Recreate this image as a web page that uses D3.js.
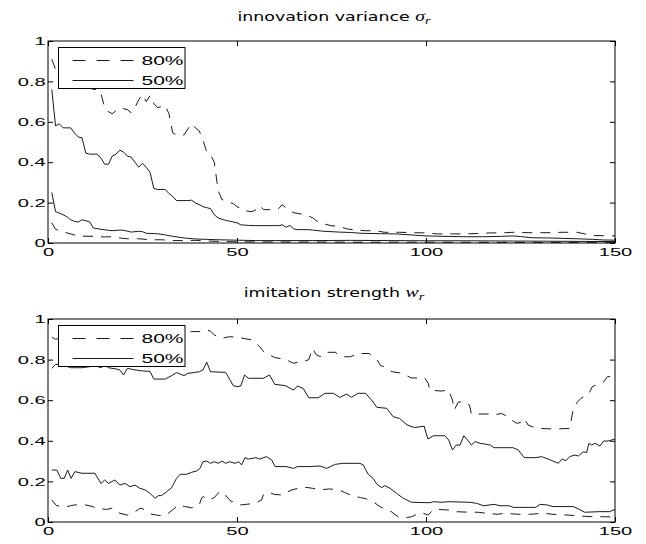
<!DOCTYPE html>
<html>
<head>
<meta charset="utf-8">
<script src="https://cdn.jsdelivr.net/npm/d3@7"></script>
<style>
  html, body { margin: 0; padding: 0; background: #fff; }
  svg { display: block; }
</style>
</head>
<body>
<svg id="chart" width="646" height="544"></svg>
<script>
// ---------------- data ----------------
const xTicks = [0, 50, 100, 150];
const yTicks = [0, 0.2, 0.4, 0.6, 0.8, 1];
const yTickLabels = ["0", "0.2", "0.4", "0.6", "0.8", "1"];
const legendLabels = ["80%", "50%"];
const panelTitles = ["innovation variance", "imitation strength"];
const panelSymbols = ["σ", "w"];

// top panel: innovation variance sigma_r  ([x, value])
const topHi80 = [[1,0.91],[2,0.86],[3,0.84],[4,0.83],[5,0.85],[6,0.82],[7,0.80],[8,0.81],[9,0.79],[10,0.78],[11,0.77],[12,0.76],[13,0.76],[14,0.74],[15,0.67],[16,0.65],[17,0.64],[18,0.655],[19,0.67],[20,0.665],[21,0.66],[22,0.645],[23,0.67],[24,0.71],[25,0.735],[26,0.70],[27,0.73],[28,0.69],[29,0.67],[30,0.675],[31,0.68],[32,0.64],[33,0.545],[34,0.535],[36,0.535],[37,0.565],[38,0.59],[39,0.57],[40,0.555],[41,0.51],[42,0.45],[43,0.435],[44,0.40],[45,0.26],[46,0.215],[47,0.21],[48,0.2],[49,0.195],[50,0.18],[51,0.17],[52,0.16],[54,0.155],[55,0.165],[56,0.185],[57,0.165],[60,0.165],[61,0.17],[62,0.19],[63,0.17],[65,0.15],[68,0.14],[70,0.125],[71,0.11],[73,0.095],[75,0.085],[77,0.083],[79,0.07],[81,0.065],[84,0.061],[87,0.06],[89,0.053],[93,0.053],[97,0.051],[100,0.05],[103,0.045],[110,0.045],[114,0.047],[117,0.05],[120,0.05],[123,0.053],[127,0.051],[133,0.051],[136,0.053],[140,0.053],[142,0.045],[144,0.037],[147,0.036],[150,0.035]];
const topHi50 = [[1,0.76],[2,0.58],[3,0.59],[4,0.57],[6,0.57],[7,0.545],[8,0.525],[9,0.52],[10,0.445],[11,0.44],[13,0.44],[14,0.42],[15,0.39],[16,0.39],[17,0.43],[18,0.44],[19,0.46],[20,0.45],[21,0.43],[22,0.425],[23,0.40],[24,0.375],[25,0.395],[26,0.375],[27,0.35],[28,0.27],[29,0.265],[31,0.265],[32,0.245],[33,0.23],[34,0.21],[37,0.21],[38,0.212],[39,0.198],[40,0.19],[41,0.18],[42,0.175],[43,0.17],[44,0.14],[45,0.124],[46,0.118],[47,0.112],[48,0.108],[49,0.104],[50,0.1],[51,0.09],[53,0.087],[55,0.086],[61,0.086],[62,0.09],[63,0.078],[64,0.087],[65,0.07],[66,0.066],[69,0.066],[70,0.064],[73,0.058],[77,0.054],[80,0.052],[83,0.048],[88,0.046],[92,0.045],[96,0.04],[100,0.035],[105,0.033],[110,0.031],[115,0.031],[120,0.033],[123,0.035],[125,0.032],[128,0.026],[132,0.025],[136,0.023],[140,0.021],[144,0.018],[147,0.015],[150,0.014]];
const topLo50 = [[1,0.25],[2,0.155],[3,0.148],[4,0.14],[5,0.13],[6,0.115],[7,0.107],[8,0.104],[9,0.115],[10,0.11],[11,0.105],[12,0.074],[14,0.068],[16,0.063],[17,0.061],[19,0.064],[20,0.063],[22,0.054],[24,0.058],[25,0.056],[26,0.048],[29,0.046],[31,0.04],[33,0.033],[36,0.025],[39,0.02],[42,0.018],[45,0.016],[50,0.014],[55,0.012],[70,0.012],[80,0.013],[90,0.012],[100,0.011],[110,0.011],[120,0.01],[130,0.009],[140,0.008],[150,0.007]];
const topLo80 = [[1,0.1],[2,0.068],[3,0.06],[5,0.05],[7,0.04],[8,0.034],[12,0.033],[15,0.03],[17,0.031],[19,0.025],[21,0.021],[24,0.021],[27,0.016],[30,0.016],[33,0.012],[36,0.012],[39,0.013],[42,0.01],[45,0.008],[50,0.006],[60,0.005],[70,0.005],[80,0.004],[100,0.004],[120,0.003],[150,0.003]];

// bottom panel: imitation strength w_r  ([x, value])
const botHi80 = [[1,0.91],[2,0.90],[4,0.91],[6,0.92],[8,0.93],[10,0.92],[12,0.93],[14,0.94],[16,0.93],[18,0.92],[20,0.93],[22,0.94],[24,0.93],[26,0.92],[28,0.93],[30,0.94],[32,0.93],[34,0.92],[36,0.921],[38,0.938],[40,0.938],[42,0.946],[43,0.94],[44,0.921],[46,0.905],[48,0.913],[50,0.91],[54,0.897],[55,0.88],[56,0.864],[57,0.84],[58,0.826],[59,0.82],[60,0.81],[63,0.8],[64,0.79],[65,0.782],[66,0.787],[68,0.793],[69,0.8],[70,0.855],[71,0.823],[72,0.815],[73,0.82],[74,0.836],[76,0.836],[77,0.82],[78,0.814],[80,0.814],[82,0.83],[85,0.83],[86,0.81],[87,0.8],[88,0.77],[89,0.765],[91,0.74],[93,0.735],[94,0.73],[96,0.71],[99.7,0.708],[100.6,0.683],[101,0.65],[104,0.645],[106,0.65],[107,0.6],[107.5,0.552],[108.5,0.59],[110,0.593],[111.5,0.576],[112,0.532],[116.5,0.532],[118,0.527],[120,0.535],[121,0.525],[122,0.51],[124,0.486],[125,0.49],[126,0.51],[127,0.478],[128,0.47],[130,0.461],[134,0.458],[138,0.461],[139,0.56],[140,0.59],[141,0.609],[142.5,0.626],[143,0.63],[144,0.667],[146,0.683],[147,0.69],[148,0.716],[150,0.716]];
const botHi50 = [[1,0.757],[2,0.777],[4,0.773],[6,0.76],[9,0.76],[11,0.765],[12,0.773],[14,0.76],[15,0.773],[16,0.76],[18,0.754],[19,0.749],[20,0.724],[21,0.757],[23,0.749],[25,0.744],[27,0.742],[28,0.704],[31,0.704],[33,0.724],[34,0.736],[36,0.721],[37,0.732],[40,0.74],[41,0.749],[42,0.787],[43,0.74],[47,0.737],[49,0.672],[50,0.667],[51,0.67],[52,0.724],[53,0.708],[57,0.708],[58.6,0.724],[60,0.678],[62.7,0.672],[65,0.65],[66,0.67],[67.5,0.658],[69,0.612],[71.5,0.612],[73.3,0.634],[75.5,0.634],[77.2,0.614],[79,0.63],[80.3,0.614],[82,0.634],[84,0.634],[85.6,0.601],[87,0.565],[89.6,0.56],[91.3,0.519],[93,0.51],[95,0.478],[97,0.465],[99.5,0.472],[100.5,0.409],[102,0.425],[105,0.425],[106,0.404],[107,0.355],[108,0.379],[109,0.379],[110,0.425],[111,0.404],[112,0.379],[113,0.396],[114.3,0.388],[117,0.379],[118,0.366],[123,0.366],[124.4,0.355],[126,0.317],[129,0.317],[130.6,0.322],[133,0.305],[135,0.289],[136,0.31],[137,0.302],[138,0.322],[139.4,0.33],[140.3,0.325],[141.6,0.346],[142.5,0.342],[143.1,0.388],[143.8,0.379],[144.7,0.388],[146,0.374],[147,0.399],[148.2,0.399],[150,0.409]];
const botLo50 = [[1,0.256],[2.3,0.256],[3.4,0.215],[4.3,0.215],[5.2,0.256],[6.1,0.215],[7.1,0.248],[9,0.24],[12.4,0.24],[14,0.19],[15,0.207],[16,0.19],[17.7,0.207],[19,0.182],[20.4,0.19],[21.7,0.174],[23,0.182],[24.3,0.166],[25.7,0.158],[27,0.141],[28.3,0.117],[29.2,0.13],[30,0.13],[31.4,0.149],[32.7,0.169],[34,0.215],[35,0.235],[36.7,0.235],[38,0.245],[39.3,0.251],[40.2,0.264],[41,0.297],[42,0.3],[43,0.289],[44,0.297],[45,0.289],[46,0.3],[47,0.289],[48,0.297],[49.5,0.289],[50.5,0.297],[51.2,0.281],[52.1,0.317],[53,0.31],[55,0.317],[56,0.31],[57.8,0.322],[59.2,0.305],[60.1,0.273],[63,0.273],[65,0.264],[66,0.273],[69,0.273],[72,0.276],[73.7,0.264],[76,0.284],[78,0.289],[82.5,0.289],[83.4,0.281],[84.7,0.235],[86,0.215],[87,0.186],[88.3,0.169],[89.1,0.179],[90.5,0.166],[92.2,0.141],[94,0.117],[96.2,0.097],[101,0.095],[102,0.1],[104,0.097],[106,0.1],[111.6,0.097],[113.4,0.092],[115.2,0.08],[118,0.087],[119.6,0.08],[122,0.08],[123.1,0.072],[129,0.072],[130.2,0.087],[132,0.084],[133.6,0.076],[139,0.076],[140.3,0.064],[142,0.048],[146,0.051],[148.6,0.051],[150,0.062]];
const botLo80 = [[1,0.108],[2.3,0.08],[4,0.076],[5,0.076],[6,0.08],[7,0.084],[10,0.084],[12,0.075],[13,0.067],[15.5,0.062],[17,0.068],[18.6,0.045],[19,0.043],[21,0.034],[23,0.05],[24.3,0.067],[25,0.067],[26,0.05],[27,0.04],[28.7,0.034],[30,0.032],[31.5,0.038],[33,0.06],[34.5,0.084],[36.2,0.076],[38,0.07],[40,0.084],[40.7,0.12],[41.1,0.125],[42.4,0.108],[44,0.12],[45.3,0.149],[46.6,0.14],[48.2,0.105],[50,0.092],[51,0.084],[53.8,0.09],[55,0.095],[56.5,0.108],[57,0.135],[58.5,0.145],[60,0.136],[61.8,0.133],[63,0.145],[64.5,0.158],[67,0.17],[68.5,0.17],[70,0.166],[72.2,0.158],[73,0.16],[74.4,0.163],[77,0.158],[78.5,0.145],[80,0.133],[82.7,0.12],[84,0.115],[86,0.1],[87.8,0.076],[89,0.065],[90.8,0.051],[92.6,0.026],[94,0.02],[95,0.022],[96.2,0.026],[97.5,0.038],[99,0.045],[100.5,0.034],[101.9,0.059],[103,0.062],[105.9,0.059],[107.2,0.051],[109,0.05],[111.6,0.048],[113.8,0.048],[116,0.043],[118.8,0.038],[121,0.043],[124.4,0.038],[127.5,0.038],[131,0.043],[133.6,0.038],[135.5,0.036],[137.6,0.034],[140.3,0.03],[142,0.028],[144.2,0.026],[147.3,0.026],[150,0.024]];

// ---------------- drawing ----------------
const svg = d3.select("#chart");
const SX = 1.75;                       // horizontal stretch of the reference lettering
const LABEL_FONT = "'Liberation Sans', Arial, Helvetica, sans-serif";
const DASH = "10,8";

const x = d3.scaleLinear().domain([0, 150]).range([48, 615]);

const panels = [
  { top: 41, bottom: 243, titleY: 20.5, series: [topHi80, topHi50, topLo50, topLo80] },
  { top: 319, bottom: 522, titleY: 297, series: [botHi80, botHi50, botLo50, botLo80] }
];
const seriesDash = [true, false, false, true];

panels.forEach((p, i) => {
  const y = d3.scaleLinear().domain([0, 1]).range([p.bottom, p.top]);
  const g = svg.append("g");

  // title
  const t = g.append("text")
    .attr("transform", `translate(334,${p.titleY}) scale(1.36,1)`)
    .attr("text-anchor", "middle")
    .attr("font-family", "'DejaVu Sans', sans-serif")
    .attr("font-size", 12.8)
    .attr("fill", "#000");
  t.append("tspan").text(panelTitles[i] + " ");
  t.append("tspan").attr("font-family", "'Liberation Serif', 'DejaVu Serif', serif")
    .attr("font-style", "italic").attr("font-size", 14.5).text(panelSymbols[i]);
  t.append("tspan").attr("font-family", "'Liberation Serif', 'DejaVu Serif', serif")
    .attr("font-style", "italic").attr("font-size", 10.5).attr("dy", 3).text("r");

  // series lines
  const line = d3.line().x(d => x(d[0])).y(d => y(d[1]));
  p.series.forEach((s, k) => {
    g.append("path")
      .datum(s)
      .attr("d", line)
      .attr("fill", "none")
      .attr("stroke", "#000")
      .attr("stroke-width", 0.9)
      .attr("stroke-dasharray", seriesDash[k] ? DASH : null);
  });

  // axes (ticks inward, box on)
  const axB = g.append("g").attr("transform", `translate(0,${p.bottom})`)
    .call(d3.axisBottom(x).tickValues(xTicks).tickFormat(d3.format("d"))
      .tickSizeInner(-5).tickSizeOuter(0).tickPadding(4.5));
  const axT = g.append("g").attr("transform", `translate(0,${p.top})`)
    .call(d3.axisTop(x).tickValues(xTicks).tickFormat("")
      .tickSizeInner(-5).tickSizeOuter(0));
  const axL = g.append("g").attr("transform", `translate(${x.range()[0]},0)`)
    .call(d3.axisLeft(y).tickValues(yTicks).tickFormat((d, j) => yTickLabels[j])
      .tickSizeInner(-5).tickSizeOuter(0).tickPadding(2.3));
  const axR = g.append("g").attr("transform", `translate(${x.range()[1]},0)`)
    .call(d3.axisRight(y).tickValues(yTicks).tickFormat("")
      .tickSizeInner(-5).tickSizeOuter(0));
  [axB, axT, axL, axR].forEach(a => {
    a.selectAll("path.domain").remove();
    a.selectAll(".tick line").attr("stroke", "#000").attr("stroke-width", 1);
    a.selectAll(".tick text")
      .attr("font-family", LABEL_FONT)
      .attr("font-size", 11.5)
      .attr("fill", "#000");
  });
  axB.selectAll(".tick text").attr("transform", `scale(${SX},1)`);
  axL.selectAll(".tick text").each(function () {
    const el = d3.select(this);
    el.attr("x", +el.attr("x") / SX).attr("transform", `scale(${SX},1)`);
  });

  // frame
  g.append("rect")
    .attr("x", x.range()[0]).attr("y", p.top)
    .attr("width", x.range()[1] - x.range()[0]).attr("height", p.bottom - p.top)
    .attr("fill", "none").attr("stroke", "#000").attr("stroke-width", 1);

  // legend
  const lg = g.append("g").attr("transform", `translate(58.5,${p.top + 6.5})`);
  lg.append("rect").attr("x", 0).attr("y", 0).attr("width", 126.5).attr("height", 41)
    .attr("fill", "#fff").attr("stroke", "#000").attr("stroke-width", 1);
  legendLabels.forEach((lab, k) => {
    const ly = 13 + k * 20;
    lg.append("line").attr("x1", 14).attr("x2", 75).attr("y1", ly).attr("y2", ly)
      .attr("stroke", "#000").attr("stroke-width", 0.9)
      .attr("stroke-dasharray", k === 0 ? "13,11" : null);
    lg.append("text")
      .attr("transform", `translate(83,${ly + 4.5}) scale(${SX},1)`)
      .attr("font-family", LABEL_FONT)
      .attr("font-size", 12)
      .attr("fill", "#000")
      .text(lab);
  });
});
</script>
</body>
</html>
